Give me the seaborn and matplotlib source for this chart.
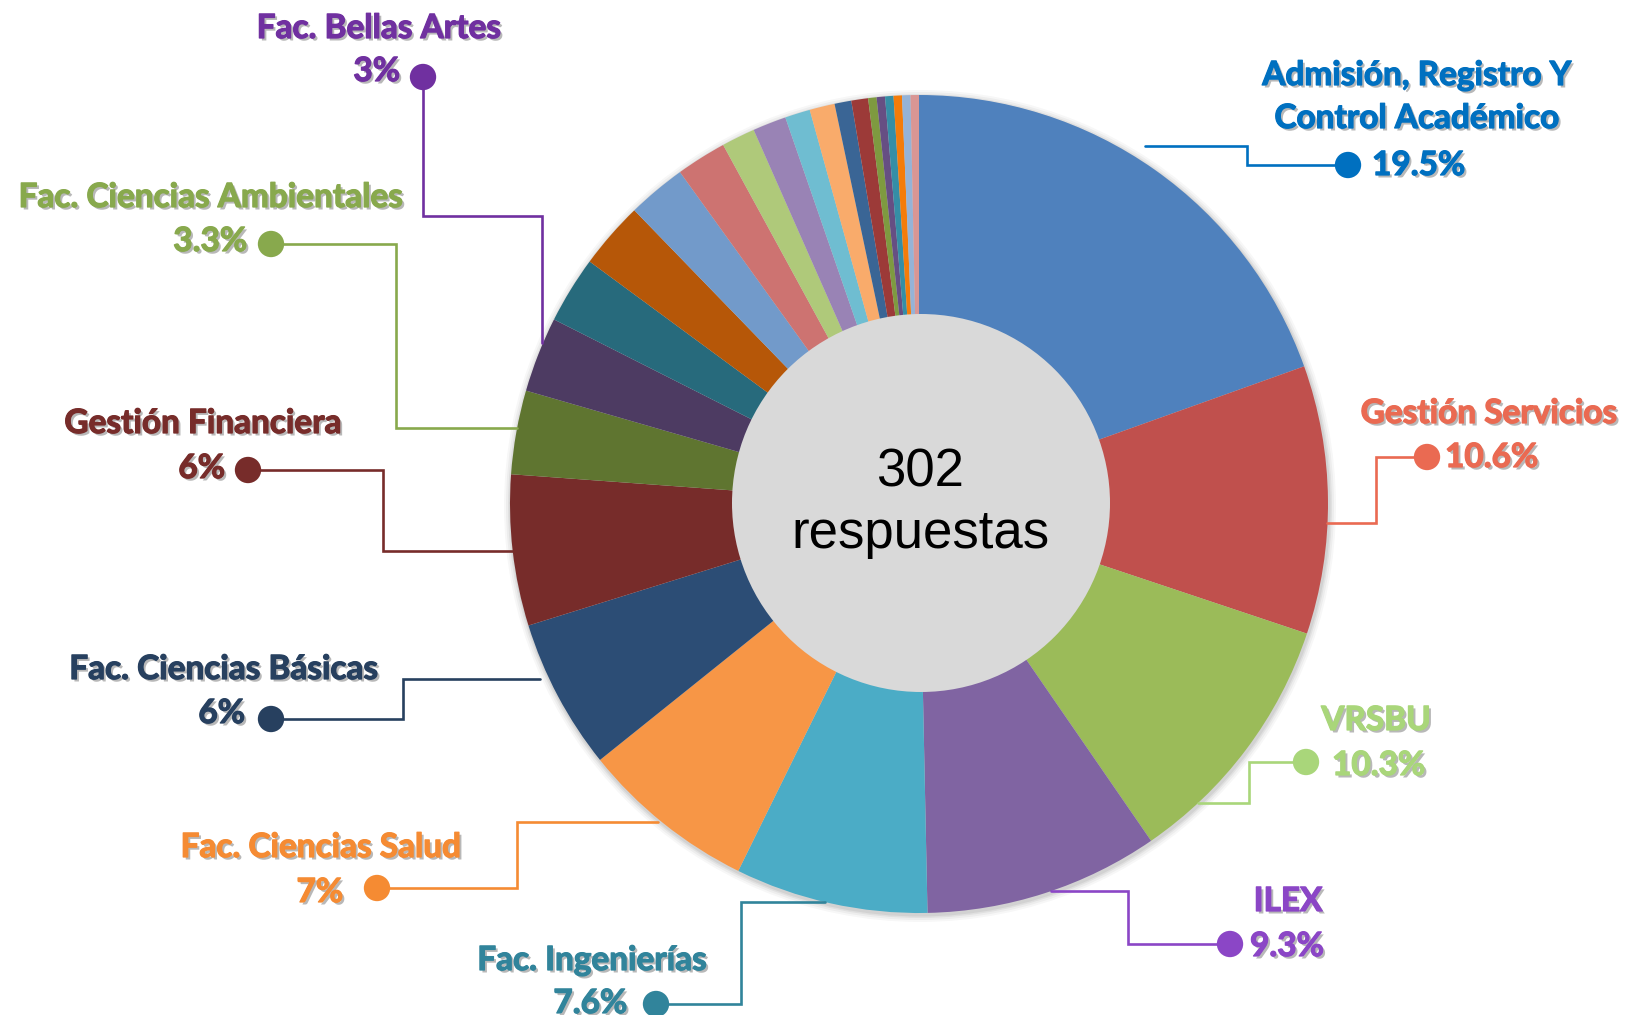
import matplotlib
matplotlib.use("Agg")
import matplotlib.pyplot as plt
import matplotlib.patheffects as pe
from matplotlib.patches import Circle
import seaborn as sns
import pandas as pd

# ---------------- data ----------------
total_number = "302"
total_word = "respuestas"

# responses per unit, clockwise from 12 o'clock (302 total)
counts = [59, 32, 31, 28, 23, 21, 18, 18, 10, 9,
          8, 8, 7, 6, 4, 4, 3, 3, 2, 2, 1, 1, 1, 1, 1, 1]
slice_colors = ["#4F81BD", "#C0504D", "#9BBB59", "#8064A2", "#4BACC6", "#F79646",
                "#2C4D75", "#772C2A", "#5F7530", "#4D3B62", "#276A7C", "#B65708",
                "#729ACA", "#CD7371", "#AFC97A", "#9983B5", "#6FBDD1", "#F9AB6B",
                "#3A6595", "#9C3A38", "#7E9A40", "#664F83", "#358EA6", "#F47C0A",
                "#95B3D7", "#D99694"]

names = ["Admisión, Registro Y\nControl Académico", "Gestión Servicios", "VRSBU", "ILEX",
         "Fac. Ingenierías", "Fac. Ciencias Salud", "Fac. Ciencias Básicas",
         "Gestión Financiera", "Fac. Ciencias Ambientales", "Fac. Bellas Artes"]
pct_labels = ["19.5%", "10.6%", "10.3%", "9.3%", "7.6%", "7%", "6%", "6%", "3.3%", "3%"]
label_colors = ["#0070C0", "#EA6A52", "#A9D67A", "#8B46C6", "#31849B", "#F58B33",
                "#27405F", "#772C2A", "#88A94D", "#7030A0"]

# ---------------- layout (pixel coords, y downward) ----------------
W, H = 1625, 1015
PIE_C = (919, 504)
PIE_R = 409
HOLE_C = (921, 503)
HOLE_R = 189

# baseline of the last line of each name
name_pos = [(1417, 128), (1489, 423), (1376, 730), (1288, 911), (592, 970),
            (321, 857), (224, 679), (203, 433), (211, 207), (379, 38)]
pct_pos = [(1372, 175), (1445, 467), (1332, 775), (1250, 956), (627, 1013),
           (343, 902), (245, 723), (225, 478), (247, 251), (400, 81)]
pct_ha = ["left", "left", "left", "left", "right", "right", "right", "right", "right", "right"]
dot_pos = [(1348, 165), (1427, 457), (1306, 762), (1230, 944), (656, 1004),
           (377, 888), (271, 719), (248, 470), (271, 244), (423, 77)]
leader_paths = [
    [(1348, 165), (1247, 165), (1247, 146), (1145, 146)],
    [(1427, 457), (1376, 457), (1376, 523), (1327, 523)],
    [(1306, 762), (1249, 762), (1249, 803), (1198, 803)],
    [(1230, 944), (1128, 944), (1128, 891), (1051, 891)],
    [(656, 1004), (741, 1004), (741, 902), (825, 902)],
    [(377, 888), (517, 888), (517, 822), (658, 822)],
    [(271, 719), (403, 719), (403, 679), (540, 679)],
    [(248, 470), (383, 470), (383, 551), (513, 551)],
    [(271, 244), (396, 244), (396, 428), (517, 428)],
    [(423, 77), (423, 216), (542, 216), (542, 343)],
]
LINE_GAP = 43
LABEL_SIZE = 24


def Y(y):
    return H - y


sns.set_theme(style="white")
plt.rcParams["font.family"] = ["Lato", "DejaVu Sans"]

fig = plt.figure(figsize=(W / 100, H / 100), dpi=100)
ax = fig.add_axes([0, 0, 1, 1])

# soft shadow around the pie
for dr, a in [(7, 0.03), (5, 0.04), (3, 0.05), (1.5, 0.06)]:
    ax.add_patch(Circle((PIE_C[0] + 1, Y(PIE_C[1]) - 2), PIE_R + dr, color="black",
                        alpha=a, lw=0, zorder=0))

ax.pie(counts, colors=slice_colors, startangle=90, counterclock=False,
       center=(PIE_C[0], Y(PIE_C[1])), radius=PIE_R,
       wedgeprops=dict(linewidth=0, edgecolor="none", zorder=1))

ax.add_patch(Circle((HOLE_C[0], Y(HOLE_C[1])), HOLE_R, facecolor="#D9D9D9",
                    edgecolor="none", zorder=3))
ax.text(HOLE_C[0] - 1, Y(486), total_number, ha="center", va="baseline", fontsize=38,
        family=["Liberation Sans", "DejaVu Sans"], color="black", zorder=4)
ax.text(HOLE_C[0] - 1, Y(548), total_word, ha="center", va="baseline", fontsize=38,
        family=["Liberation Sans", "DejaVu Sans"], color="black", zorder=4)

# leader lines
for path, col in zip(leader_paths, label_colors):
    xs = [p[0] for p in path]
    ys = [Y(p[1]) for p in path]
    ax.plot(xs, ys, color=col, lw=1.9, solid_joinstyle="miter", zorder=4)

# dots
dots = pd.DataFrame({"x": [p[0] for p in dot_pos], "y": [Y(p[1]) for p in dot_pos],
                     "name": names})
sns.scatterplot(data=dots, x="x", y="y", hue="name", palette=dict(zip(names, label_colors)),
                s=360, edgecolor="none", legend=False, ax=ax, zorder=5)


def effects(col):
    return [pe.SimplePatchShadow(offset=(1.8, -1.8), shadow_rgbFace="black", alpha=0.28),
            pe.Stroke(linewidth=0.9, foreground=col),
            pe.Normal()]


for name, pct, col, (nx, ny), (px, py), ha in zip(names, pct_labels, label_colors,
                                                  name_pos, pct_pos, pct_ha):
    lines = name.split("\n")
    for i, line in enumerate(lines):
        yy = ny - (len(lines) - 1 - i) * LINE_GAP
        ax.text(nx, Y(yy), line, ha="center", va="baseline", fontsize=LABEL_SIZE,
                fontweight="bold", color=col, path_effects=effects(col), zorder=6)
    ax.text(px, Y(py), pct, ha=ha, va="baseline", fontsize=LABEL_SIZE, fontweight="bold",
            color=col, path_effects=effects(col), zorder=6)

ax.set_xlim(0, W)
ax.set_ylim(0, H)
ax.set_aspect("equal")
ax.axis("off")

fig.savefig("out.png", dpi=100, facecolor="white")
